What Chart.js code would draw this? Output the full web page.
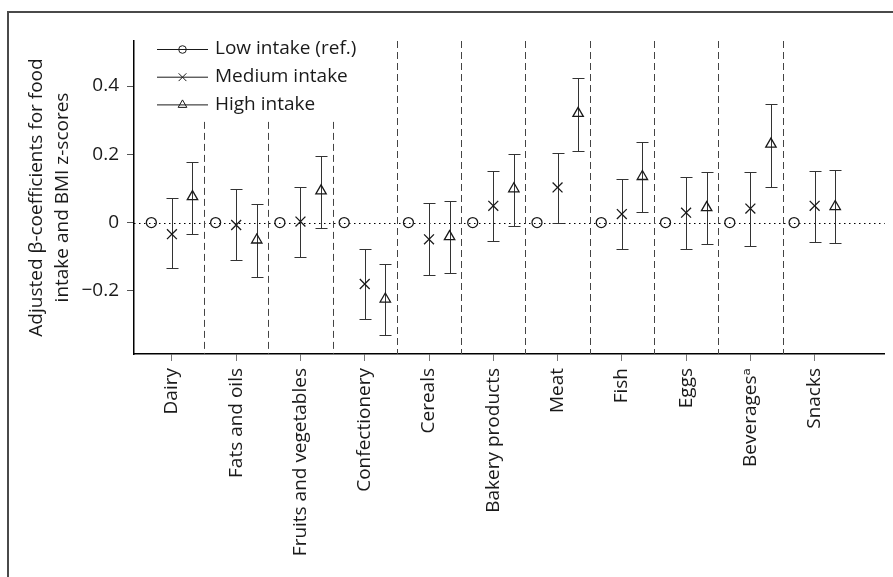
<!DOCTYPE html>
<html>
<head>
<meta charset="utf-8">
<script src="https://cdn.jsdelivr.net/npm/chart.js@4.4.0/dist/chart.umd.min.js"></script>
<style>
  html, body { margin: 0; padding: 0; background: #fff; }
  #wrap { position: relative; width: 893px; height: 577px; overflow: hidden; }
  #frame { position: absolute; left: 7px; top: 11px; right: -4px; bottom: -4px; border-top: 2px solid #4a4a4a; border-left: 2px solid #4a4a4a; }
  #chart { position: absolute; left: 0; top: 0; }
</style>
</head>
<body>
<div id="wrap">
  <div id="frame"></div>
  <canvas id="chart" width="893" height="577"></canvas>
</div>
<script>
const categories = ['Dairy', 'Fats and oils', 'Fruits and vegetables', 'Confectionery', 'Cereals',
  'Bakery products', 'Meat', 'Fish', 'Eggs', 'Beverages\u1d43', 'Snacks'];
const yTicks = [-0.2, 0, 0.2, 0.4];

const lowValues = [0, 0, 0, 0, 0, 0, 0, 0, 0, 0, 0];

const mediumValues = [-0.034, -0.007, 0.003, -0.180, -0.049, 0.049, 0.103, 0.025, 0.029, 0.041, 0.049];
const mediumLower = [-0.132, -0.109, -0.100, -0.282, -0.153, -0.055, 0.000, -0.078, -0.076, -0.068, -0.056];
const mediumUpper = [0.073, 0.098, 0.105, -0.076, 0.057, 0.152, 0.203, 0.128, 0.133, 0.148, 0.152];

const highValues = [0.076, -0.051, 0.093, -0.224, -0.041, 0.099, 0.320, 0.135, 0.044, 0.230, 0.047];
const highLower = [-0.033, -0.158, -0.015, -0.329, -0.148, -0.010, 0.210, 0.030, -0.064, 0.105, -0.061];
const highUpper = [0.177, 0.054, 0.194, -0.121, 0.063, 0.202, 0.425, 0.236, 0.148, 0.347, 0.153];

const FONT = '"Open Sans", "DejaVu Sans", sans-serif';
const INK = '#1a1a1a';
const SHIFT = 0.32;

function points(values, shift) {
    return values.map((v, i) => ({ x: i + shift, y: v }));
}

// dashed separators between food groups; the first few stop below the legend
const separators = categories.slice(1).map((c, i) => i + 0.5);
const legendClear = 0.295;

const extras = {
    id: 'extras',
    beforeDatasetsDraw(chart) {
        const { ctx, chartArea, scales: { x, y } } = chart;
        ctx.save();
        ctx.lineWidth = 1;

        // reference line at zero
        const y0 = Math.round(y.getPixelForValue(0)) + 0.5;
        ctx.strokeStyle = '#000';
        ctx.setLineDash([1.5, 3.5]);
        ctx.beginPath();
        ctx.moveTo(chartArea.left, y0);
        ctx.lineTo(chartArea.right, y0);
        ctx.stroke();

        ctx.strokeStyle = '#444';
        ctx.setLineDash([7, 4]);
        separators.forEach((v, i) => {
            const px = Math.round(x.getPixelForValue(v)) + 0.5;
            const top = i < 3 ? y.getPixelForValue(legendClear) : chartArea.top;
            ctx.beginPath();
            ctx.moveTo(px, top);
            ctx.lineTo(px, chartArea.bottom);
            ctx.stroke();
        });

        // error bars
        ctx.setLineDash([]);
        ctx.strokeStyle = '#333';
        chart.data.datasets.forEach(ds => {
            if (!ds.lower) return;
            ds.data.forEach((p, i) => {
                const px = Math.round(x.getPixelForValue(p.x)) + 0.5;
                const lo = Math.round(y.getPixelForValue(ds.lower[i])) + 0.5;
                const hi = Math.round(y.getPixelForValue(ds.upper[i])) + 0.5;
                ctx.beginPath();
                ctx.moveTo(px, lo); ctx.lineTo(px, hi);
                ctx.moveTo(px - 6, lo); ctx.lineTo(px + 6, lo);
                ctx.moveTo(px - 6, hi); ctx.lineTo(px + 6, hi);
                ctx.stroke();
            });
        });
        ctx.restore();
    },
    afterDraw(chart) {
        const { ctx, chartArea } = chart;
        const x0 = chartArea.left + 23;
        ctx.save();
        ctx.font = '19px ' + FONT;
        ctx.textBaseline = 'middle';
        chart.data.datasets.forEach((ds, i) => {
            const ly = chartArea.top + 8 + i * 27.7;
            ctx.strokeStyle = INK;
            ctx.fillStyle = 'rgba(0,0,0,0)';
            ctx.lineWidth = 1;
            ctx.beginPath();
            ctx.moveTo(x0, ly + 0.5);
            ctx.lineTo(x0 + 51, ly + 0.5);
            ctx.stroke();
            Chart.helpers.drawPoint(ctx, {
                pointStyle: ds.pointStyle,
                radius: ds.legendRadius,
                borderWidth: 1.1,
                rotation: 0
            }, x0 + 25.5, ly + 0.5);
            ctx.fillStyle = INK;
            ctx.fillText(ds.label, x0 + 58, ly);
        });
        ctx.restore();
    }
};

const ctx = document.getElementById('chart').getContext('2d');

new Chart(ctx, {
    type: 'scatter',
    data: {
        datasets: [{
            label: 'Low intake (ref.)',
            data: points(lowValues, -SHIFT),
            pointStyle: 'circle',
            pointRadius: 5,
            legendRadius: 3.8
        }, {
            label: 'Medium intake',
            data: points(mediumValues, 0),
            lower: mediumLower,
            upper: mediumUpper,
            pointStyle: 'crossRot',
            pointRadius: 7,
            legendRadius: 5.5
        }, {
            label: 'High intake',
            data: points(highValues, SHIFT),
            lower: highLower,
            upper: highUpper,
            pointStyle: 'triangle',
            pointRadius: 6,
            legendRadius: 5
        }]
    },
    options: {
        responsive: false,
        animation: false,
        layout: { padding: { left: 0, top: 41, right: 8, bottom: 0 } },
        elements: {
            point: {
                borderColor: INK,
                backgroundColor: 'rgba(0,0,0,0)',
                borderWidth: 1.3,
                hoverRadius: 6
            }
        },
        plugins: {
            legend: { display: false },
            tooltip: { enabled: false }
        },
        scales: {
            x: {
                type: 'linear',
                min: -0.59,
                max: 11.09,
                afterBuildTicks: s => { s.ticks = categories.map((c, i) => ({ value: i })); },
                afterFit: s => { s.height = 223; },
                ticks: {
                    autoSkip: false,
                    minRotation: 90,
                    maxRotation: 90,
                    padding: 7,
                    color: INK,
                    font: { family: FONT, size: 19 },
                    callback: v => categories[v]
                },
                grid: { drawOnChartArea: false, tickLength: 7, color: '#777' },
                border: { color: '#000', width: 1.5 }
            },
            y: {
                min: -0.385,
                max: 0.532,
                afterBuildTicks: s => { s.ticks = yTicks.map(v => ({ value: v })); },
                afterFit: s => { s.width = 134; },
                ticks: {
                    padding: 8,
                    color: INK,
                    font: { family: FONT, size: 19 },
                    callback: v => v === 0 ? '0' : (v < 0 ? '\u2212' : '') + Math.abs(v).toFixed(1)
                },
                grid: { drawOnChartArea: false, tickLength: 7, color: '#555' },
                border: { color: '#000', width: 1.5 },
                title: {
                    display: true,
                    text: ['Adjusted \u03b2-coefficients for food', 'intake and BMI z-scores'],
                    color: INK,
                    font: { family: FONT, size: 19, lineHeight: 1.4 },
                    padding: { top: 23, bottom: 0 }
                }
            }
        }
    },
    plugins: [extras]
});
</script>
</body>
</html>
